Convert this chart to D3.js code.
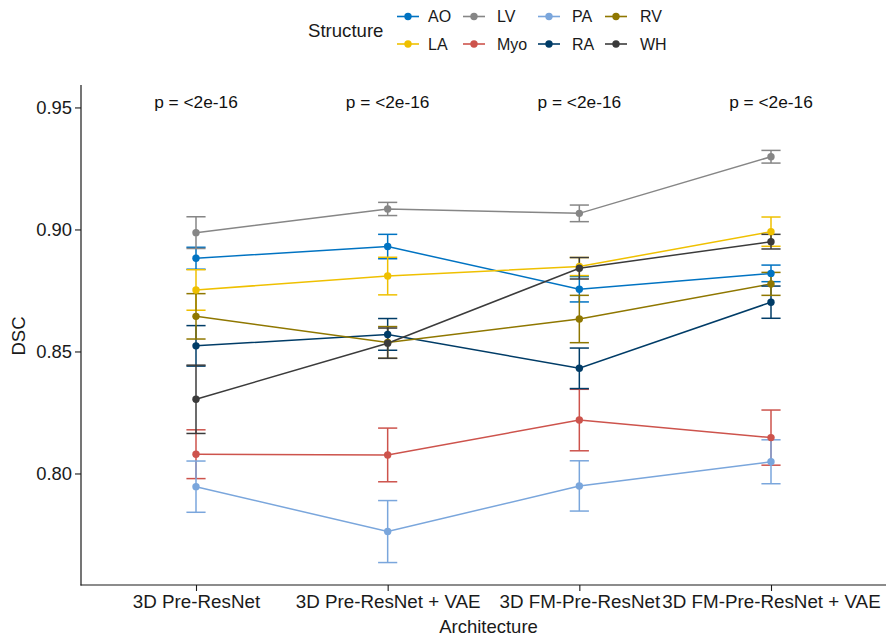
<!DOCTYPE html>
<html>
<head>
<meta charset="utf-8">
<script src="https://cdn.jsdelivr.net/npm/d3@7/dist/d3.min.js"></script>
<style>
  body { margin: 0; background: #fff; }
  svg { display: block; font-family: "Liberation Sans", Arial, sans-serif; }
</style>
</head>
<body>
<svg id="chart" width="886" height="637"></svg>
<script>
// ---- data ----
const categories = ["3D Pre-ResNet", "3D Pre-ResNet + VAE", "3D FM-Pre-ResNet", "3D FM-Pre-ResNet + VAE"];
const structures = ["AO", "LA", "LV", "Myo", "PA", "RA", "RV", "WH"];
const colors = ["#0073C2", "#EFC000", "#868686", "#CD534C", "#7AA6DC", "#003C67", "#8F7700", "#3B3B3B"];

const meanAO  = [0.8882, 0.8930, 0.8755, 0.8820];
const meanLA  = [0.8752, 0.8809, 0.8848, 0.8991];
const meanLV  = [0.8987, 0.9084, 0.9066, 0.9298];
const meanMyo = [0.8079, 0.8076, 0.8219, 0.8147];
const meanPA  = [0.7946, 0.7762, 0.7949, 0.8048];
const meanRA  = [0.8523, 0.8570, 0.8431, 0.8702];
const meanRV  = [0.8644, 0.8537, 0.8633, 0.8777];
const meanWH  = [0.8304, 0.8534, 0.8841, 0.8950];

const seAO  = [0.0045, 0.0050, 0.0052, 0.0034];
const seLA  = [0.0083, 0.0077, 0.0037, 0.0060];
const seLV  = [0.0065, 0.0027, 0.0034, 0.0026];
const seMyo = [0.0100, 0.0110, 0.0126, 0.0113];
const sePA  = [0.0105, 0.0127, 0.0103, 0.0090];
const seRA  = [0.0083, 0.0065, 0.0083, 0.0066];
const seRV  = [0.0093, 0.0065, 0.0097, 0.0047];
const seWH  = [0.0140, 0.0062, 0.0044, 0.0030];

const pLabels = ["p = <2e-16", "p = <2e-16", "p = <2e-16", "p = <2e-16"];
const pLabelY = 0.95;
const yTicks = [0.80, 0.85, 0.90, 0.95];
const yDomain = [0.7543, 0.9592];

const means = [meanAO, meanLA, meanLV, meanMyo, meanPA, meanRA, meanRV, meanWH];
const ses = [seAO, seLA, seLV, seMyo, sePA, seRA, seRV, seWH];

// ---- layout ----
const svg = d3.select("#chart");
const mLeft = 81, mRight = 886, mTop = 85, mBottom = 585;
const ink = "#1a1a1a";

const x = d3.scalePoint().domain(categories).range([mLeft, mRight]).padding(0.6);
const y = d3.scaleLinear().domain(yDomain).range([mBottom, mTop]);

const series = structures.map((s, i) => ({
  name: s, color: colors[i],
  values: categories.map((c, j) => ({ cat: c, mean: means[i][j], se: ses[i][j] }))
}));

// axes
const yAxis = svg.append("g").attr("transform", `translate(${mLeft},0)`)
  .call(d3.axisLeft(y).tickValues(yTicks).tickFormat(d3.format(".2f")).tickSize(6).tickPadding(3));
yAxis.select(".domain").remove();
yAxis.selectAll("line").attr("stroke", ink).attr("stroke-width", 1.1);
yAxis.selectAll("text").attr("font-size", 18.4).attr("fill", ink).attr("font-family", "Liberation Sans, Arial, sans-serif");

const xAxis = svg.append("g").attr("transform", `translate(0,${mBottom})`)
  .call(d3.axisBottom(x).tickSize(6).tickPadding(3));
xAxis.select(".domain").remove();
xAxis.selectAll("line").attr("stroke", ink).attr("stroke-width", 1.1);
xAxis.selectAll("text").attr("font-size", 18.8).attr("fill", ink)
  .attr("font-family", "Liberation Sans, Arial, sans-serif").attr("y", 10);

svg.append("line").attr("x1", mLeft).attr("x2", mLeft).attr("y1", mTop).attr("y2", mBottom + 0.5)
  .attr("stroke", ink).attr("stroke-width", 1.2);
svg.append("line").attr("x1", mLeft - 0.5).attr("x2", mRight).attr("y1", mBottom).attr("y2", mBottom)
  .attr("stroke", ink).attr("stroke-width", 1.2);

// axis titles
svg.append("text").attr("x", (mLeft + mRight) / 2 + 5).attr("y", 633).attr("text-anchor", "middle")
  .attr("font-size", 18.5).attr("fill", ink).text("Architecture");
svg.append("text").attr("transform", `translate(25,${(mTop + mBottom) / 2 + 1}) rotate(-90)`)
  .attr("text-anchor", "middle").attr("font-size", 18.5).attr("fill", ink).text("DSC");

// p-value labels
svg.append("g").selectAll("text").data(categories).join("text")
  .attr("x", d => x(d)).attr("y", y(pLabelY) + 1).attr("text-anchor", "middle")
  .attr("font-size", 17.3).attr("fill", "#111").text((d, i) => pLabels[i]);

// lines
const line = d3.line().x(d => x(d.cat)).y(d => y(d.mean));
const plot = svg.append("g");
plot.selectAll("path.series").data(series).join("path").attr("class", "series")
  .attr("d", d => line(d.values)).attr("fill", "none")
  .attr("stroke", d => d.color).attr("stroke-width", 1.5);

// error bars
const capHalf = x.step() * 0.05;
const eb = plot.selectAll("g.eb").data(series).join("g").attr("class", "eb")
  .attr("stroke", d => d.color).attr("stroke-width", 1.5);
eb.selectAll("line.v").data(d => d.values).join("line").attr("class", "v")
  .attr("x1", d => x(d.cat)).attr("x2", d => x(d.cat))
  .attr("y1", d => y(d.mean - d.se)).attr("y2", d => y(d.mean + d.se));
eb.selectAll("line.t").data(d => d.values).join("line").attr("class", "t")
  .attr("x1", d => x(d.cat) - capHalf).attr("x2", d => x(d.cat) + capHalf)
  .attr("y1", d => y(d.mean + d.se)).attr("y2", d => y(d.mean + d.se));
eb.selectAll("line.b").data(d => d.values).join("line").attr("class", "b")
  .attr("x1", d => x(d.cat) - capHalf).attr("x2", d => x(d.cat) + capHalf)
  .attr("y1", d => y(d.mean - d.se)).attr("y2", d => y(d.mean - d.se));

// points
plot.selectAll("g.pts").data(series).join("g").attr("class", "pts").attr("fill", d => d.color)
  .selectAll("circle").data(d => d.values).join("circle")
  .attr("cx", d => x(d.cat)).attr("cy", d => y(d.mean)).attr("r", 3.7);

// legend
const legend = svg.append("g");
legend.append("text").attr("x", 308).attr("y", 37).attr("font-size", 18.6).attr("fill", ink).text("Structure");
const colKeyX = [397, 463, 538, 605];
const colTextX = [428, 497, 572, 640];
const rowY = [16.5, 44];
structures.forEach((s, i) => {
  const col = Math.floor(i / 2), row = i % 2;
  const g = legend.append("g");
  g.append("line").attr("x1", colKeyX[col]).attr("x2", colKeyX[col] + 22)
    .attr("y1", rowY[row]).attr("y2", rowY[row]).attr("stroke", colors[i]).attr("stroke-width", 1.6);
  g.append("circle").attr("cx", colKeyX[col] + 11).attr("cy", rowY[row]).attr("r", 3.7).attr("fill", colors[i]);
  g.append("text").attr("x", colTextX[col]).attr("y", rowY[row] + 5.5).attr("font-size", 16)
    .attr("fill", ink).text(s);
});
</script>
</body>
</html>
